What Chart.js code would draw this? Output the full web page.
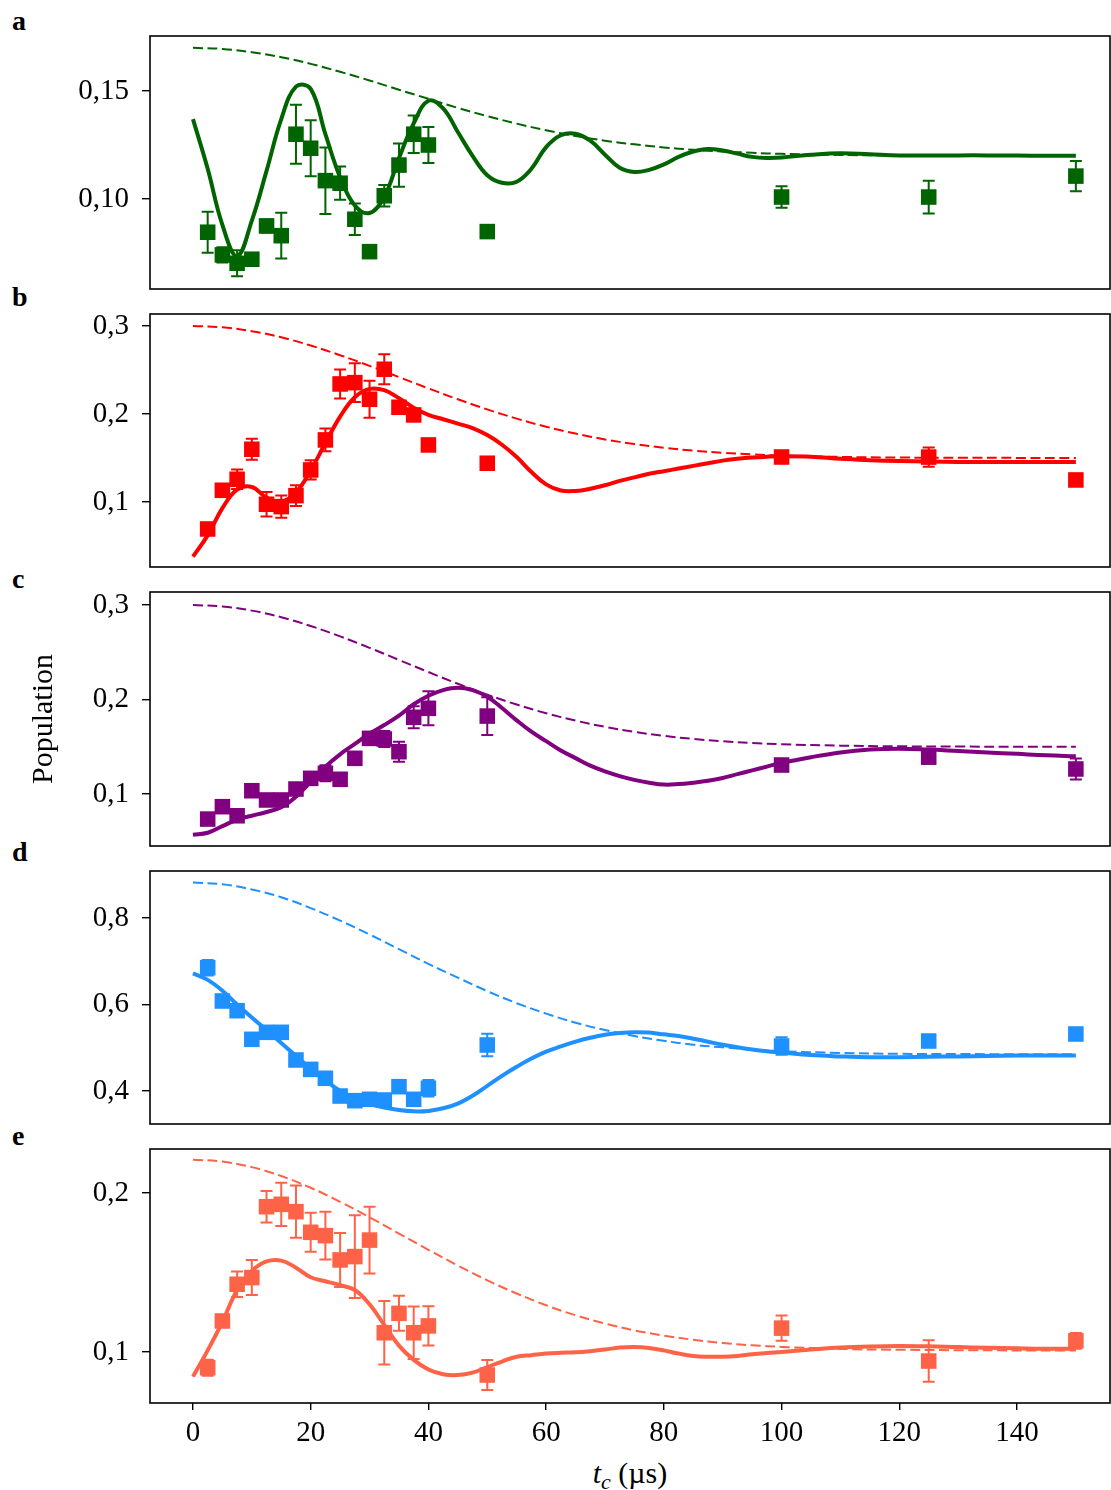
<!DOCTYPE html>
<html>
<head>
<meta charset="utf-8">
<script src="https://cdn.jsdelivr.net/npm/chart.js@4.4.1/dist/chart.umd.min.js"></script>
<style>
  body { margin: 0; background: #fff; width: 1111px; height: 1490px; position: relative; overflow: hidden; font-family: "Liberation Serif", serif; }
  canvas { position: absolute; left: 0; }
  .lbl { position: absolute; left: 12px; font-weight: bold; font-size: 28px; line-height: 28px; }
  #xt { position: absolute; left: 150px; width: 960px; top: 1458px; text-align: center; font-size: 30px; line-height: 30px; }
  #xt sub { font-size: 22px; line-height: 0; vertical-align: -6px; }
</style>
</head>
<body>
<div class="lbl" style="top:7px">a</div>
<div class="lbl" style="top:283px">b</div>
<div class="lbl" style="top:565px">c</div>
<div class="lbl" style="top:838px">d</div>
<div class="lbl" style="top:1122px">e</div>
<div id="xt"><i>t</i><sub><i>c</i></sub> (µs)</div>

<script>
// measured points (t in µs)
const tData = [2.5, 5, 7.5, 10, 12.5, 15, 17.5, 20, 22.5, 25, 27.5, 30, 32.5, 35, 37.5, 40, 50, 100, 125, 150];

const aData = [0.0846, 0.0741, 0.0702, 0.0721, 0.0875, 0.083, 0.130, 0.1235, 0.1085, 0.1073, 0.0906, 0.0756, 0.1015, 0.1157, 0.130, 0.125, 0.0849, 0.1009, 0.1009, 0.1106];
const aErr  = [0.0095, 0.0035, 0.006, 0.002, 0.003, 0.0106, 0.0137, 0.013, 0.0154, 0.0077, 0.0073, 0.002, 0.005, 0.010, 0.0087, 0.0083, 0.002, 0.005, 0.0076, 0.007];

const bData = [0.0693, 0.1133, 0.1258, 0.1599, 0.0974, 0.0947, 0.1072, 0.1364, 0.1705, 0.2341, 0.2356, 0.2167, 0.2508, 0.2076, 0.1989, 0.1648, 0.144, 0.1511, 0.151, 0.125];
const bErr  = [0.004, 0.004, 0.011, 0.012, 0.014, 0.0127, 0.0117, 0.011, 0.013, 0.0165, 0.022, 0.021, 0.017, 0.005, 0.005, 0.003, 0.003, 0.006, 0.011, 0.004];

const cData = [0.0735, 0.0866, 0.077, 0.1035, 0.0937, 0.0937, 0.1053, 0.1166, 0.1219, 0.1156, 0.1378, 0.1589, 0.1582, 0.1448, 0.1812, 0.1907, 0.1825, 0.1307, 0.139, 0.1265];
const cErr  = [0.003, 0.003, 0.003, 0.004, 0.004, 0.004, 0.004, 0.005, 0.0085, 0.004, 0.006, 0.005, 0.0085, 0.0106, 0.0116, 0.018, 0.02, 0.006, 0.005, 0.011];

const dData = [0.6851, 0.6081, 0.5857, 0.5195, 0.5357, 0.5357, 0.4717, 0.450, 0.4294, 0.3884, 0.3776, 0.3808, 0.3792, 0.41, 0.3808, 0.4063, 0.5064, 0.504, 0.5156, 0.5318];
const dErr  = [0.018, 0.008, 0.008, 0.008, 0.008, 0.008, 0.008, 0.008, 0.008, 0.008, 0.008, 0.008, 0.008, 0.008, 0.008, 0.019, 0.026, 0.02, 0.012, 0.012];

const eData = [0.0901, 0.1195, 0.1426, 0.1468, 0.1914, 0.1929, 0.1883, 0.1753, 0.1732, 0.1579, 0.160, 0.1704, 0.1121, 0.1243, 0.1121, 0.1164, 0.0855, 0.115, 0.0943, 0.107];
const eErr  = [0.005, 0.003, 0.008, 0.011, 0.0099, 0.0136, 0.0164, 0.0123, 0.015, 0.017, 0.026, 0.021, 0.02, 0.011, 0.0165, 0.0123, 0.0094, 0.008, 0.013, 0.005];

// fitted curves
const tFit = [0, 2.5, 5, 7.5, 10, 12.5, 15, 17.5, 20, 22.5, 25, 27.5, 30, 32.5, 35, 37.5, 40, 42.5, 45, 47.5, 50,
  52.5, 55, 57.5, 60, 62.5, 65, 67.5, 70, 72.5, 75, 77.5, 80, 82.5, 85, 87.5, 90, 92.5, 95, 97.5, 100,
  105, 110, 115, 120, 125, 130, 135, 140, 145, 150];

const aFit = [0.137, 0.114, 0.088, 0.0735, 0.090, 0.113, 0.137, 0.152, 0.151, 0.130, 0.110, 0.097, 0.0935, 0.101, 0.119, 0.135, 0.1455, 0.142, 0.131, 0.120, 0.111,
  0.1075, 0.108, 0.114, 0.124, 0.1295, 0.1302, 0.127, 0.1205, 0.1145, 0.1125, 0.1135, 0.116, 0.1195, 0.122, 0.1232, 0.1225, 0.121, 0.1195, 0.119, 0.1192,
  0.1205, 0.1212, 0.1207, 0.1202, 0.1201, 0.1202, 0.1202, 0.1201, 0.120, 0.120];

const bFit = [0.038, 0.062, 0.093, 0.114, 0.117, 0.105, 0.1005, 0.111, 0.136, 0.167, 0.197, 0.219, 0.2285, 0.227, 0.218, 0.207, 0.199, 0.194, 0.189, 0.184, 0.176,
  0.165, 0.151, 0.134, 0.120, 0.113, 0.1125, 0.115, 0.119, 0.124, 0.128, 0.132, 0.135, 0.138, 0.141, 0.144, 0.147, 0.149, 0.1505, 0.1515, 0.152,
  0.1515, 0.149, 0.1475, 0.1465, 0.146, 0.1455, 0.1455, 0.1455, 0.1455, 0.1455];

const cFit = [0.057, 0.059, 0.066, 0.073, 0.077, 0.081, 0.086, 0.097, 0.113, 0.129, 0.142, 0.153, 0.164, 0.173, 0.183, 0.195, 0.204, 0.210, 0.2125, 0.210, 0.203,
  0.191, 0.178, 0.166, 0.156, 0.146, 0.138, 0.130, 0.124, 0.119, 0.115, 0.112, 0.110, 0.1105, 0.112, 0.114, 0.117, 0.121, 0.125, 0.129, 0.133,
  0.139, 0.144, 0.147, 0.148, 0.147, 0.1455, 0.144, 0.1425, 0.141, 0.140];

const dFit = [0.672, 0.657, 0.632, 0.600, 0.570, 0.541, 0.511, 0.481, 0.452, 0.425, 0.400, 0.382, 0.370, 0.362, 0.356, 0.353, 0.354, 0.360, 0.371, 0.389, 0.412,
  0.435, 0.456, 0.475, 0.491, 0.503, 0.514, 0.523, 0.530, 0.534, 0.536, 0.535, 0.531, 0.527, 0.521, 0.514, 0.507, 0.501, 0.496, 0.492, 0.489,
  0.483, 0.480, 0.478, 0.478, 0.479, 0.480, 0.481, 0.482, 0.482, 0.482];

const eFit = [0.0845, 0.101, 0.119, 0.139, 0.151, 0.157, 0.1575, 0.153, 0.147, 0.1445, 0.142, 0.139, 0.130, 0.117, 0.104, 0.095, 0.089, 0.086, 0.0855, 0.087, 0.0905,
  0.094, 0.097, 0.098, 0.099, 0.0995, 0.0998, 0.1005, 0.1015, 0.1028, 0.1032, 0.1025, 0.101, 0.099, 0.0975, 0.097, 0.097, 0.0975, 0.0985, 0.0993, 0.100,
  0.1015, 0.1028, 0.1035, 0.1038, 0.1036, 0.1031, 0.1027, 0.1023, 0.102, 0.102];

// dashed envelopes
const tEnv = [0, 5, 10, 15, 20, 25, 30, 35, 40, 45, 50, 55, 60, 65, 70, 75, 80, 85, 90, 95, 100, 110, 120, 130, 140, 150];
const aEnv = [0.170, 0.1695, 0.1680, 0.1657, 0.1626, 0.1589, 0.1549, 0.1506, 0.1464, 0.1422, 0.1384, 0.1349, 0.1318, 0.1292, 0.1270, 0.1253, 0.1239, 0.1228, 0.1220, 0.1214, 0.1209, 0.1204, 0.1202, 0.1201, 0.1200, 0.1200];
const bEnv = [0.300, 0.2985, 0.2941, 0.2871, 0.2778, 0.2668, 0.2547, 0.2419, 0.2291, 0.2167, 0.2052, 0.1947, 0.1855, 0.1777, 0.1711, 0.1658, 0.1616, 0.1583, 0.1559, 0.1541, 0.1527, 0.1512, 0.1505, 0.1502, 0.1501, 0.1500];
const cEnv = [0.300, 0.2985, 0.2941, 0.2871, 0.2778, 0.2668, 0.2547, 0.2419, 0.2291, 0.2167, 0.2052, 0.1947, 0.1855, 0.1777, 0.1711, 0.1658, 0.1616, 0.1583, 0.1559, 0.1541, 0.1527, 0.1512, 0.1505, 0.1502, 0.1501, 0.1500];
const dEnv = [0.882, 0.878, 0.866, 0.848, 0.823, 0.794, 0.762, 0.728, 0.694, 0.662, 0.631, 0.603, 0.579, 0.558, 0.541, 0.527, 0.516, 0.507, 0.501, 0.496, 0.492, 0.488, 0.486, 0.4855, 0.485, 0.485];
const eEnv = [0.221, 0.2198, 0.2163, 0.2107, 0.2033, 0.1945, 0.1847, 0.1745, 0.1643, 0.1544, 0.1451, 0.1368, 0.1294, 0.1231, 0.1179, 0.1136, 0.1103, 0.1077, 0.1057, 0.1042, 0.1032, 0.1019, 0.1014, 0.1011, 0.1010, 0.1010];

// ticks
const xTicks = [0, 20, 40, 60, 80, 100, 120, 140];
const aTicks = [0.10, 0.15], aTickLabels = ['0,10', '0,15'];
const bTicks = [0.1, 0.2, 0.3], bTickLabels = ['0,1', '0,2', '0,3'];
const cTicks = [0.1, 0.2, 0.3], cTickLabels = ['0,1', '0,2', '0,3'];
const dTicks = [0.4, 0.6, 0.8], dTickLabels = ['0,4', '0,6', '0,8'];
const eTicks = [0.1, 0.2], eTickLabels = ['0,1', '0,2'];

const panels = [
  { color: '#006400', pts: aData, err: aErr, fit: aFit, env: aEnv, ticks: aTicks, labels: aTickLabels, top: 36, bottom: 289, min: 0.0583, max: 0.1755 },
  { color: '#ff0000', pts: bData, err: bErr, fit: bFit, env: bEnv, ticks: bTicks, labels: bTickLabels, top: 314, bottom: 567, min: 0.0261, max: 0.3136 },
  { color: '#800080', pts: cData, err: cErr, fit: cFit, env: cEnv, ticks: cTicks, labels: cTickLabels, top: 592, bottom: 846, min: 0.045, max: 0.3138, ytitle: 'Population' },
  { color: '#1e90ff', pts: dData, err: dErr, fit: dFit, env: dEnv, ticks: dTicks, labels: dTickLabels, top: 871, bottom: 1124, min: 0.3237, max: 0.9087 },
  { color: '#ff6347', pts: eData, err: eErr, fit: eFit, env: eEnv, ticks: eTicks, labels: eTickLabels, top: 1149, bottom: 1403, min: 0.0679, max: 0.2277, xaxis: true }
];

Chart.defaults.font.family = '"Liberation Serif", "Times New Roman", serif';
Chart.defaults.font.size = 29;
Chart.defaults.color = '#000';

const errorBars = {
  id: 'errorBars',
  afterDatasetsDraw(chart) {
    const ctx = chart.ctx;
    const xs = chart.scales.x, ys = chart.scales.y;
    chart.data.datasets.forEach(ds => {
      if (!ds.errors) return;
      ctx.save();
      ctx.strokeStyle = ds.backgroundColor;
      ctx.lineWidth = 2;
      ds.data.forEach((p, j) => {
        const e = ds.errors[j];
        const x = xs.getPixelForValue(p.x);
        const y1 = ys.getPixelForValue(p.y - e);
        const y2 = ys.getPixelForValue(p.y + e);
        ctx.beginPath();
        ctx.moveTo(x, y1); ctx.lineTo(x, y2);
        ctx.moveTo(x - 6, y1); ctx.lineTo(x + 6, y1);
        ctx.moveTo(x - 6, y2); ctx.lineTo(x + 6, y2);
        ctx.stroke();
      });
      ctx.restore();
    });
  }
};

const frame = {
  id: 'frame',
  afterDraw(chart) {
    const a = chart.chartArea, ctx = chart.ctx;
    ctx.save();
    ctx.strokeStyle = '#000';
    ctx.lineWidth = 1.6;
    ctx.strokeRect(a.left, a.top, a.right - a.left, a.bottom - a.top);
    ctx.restore();
  }
};

const PAD = 24;

panels.forEach(p => {
  const canvas = document.createElement('canvas');
  const top = p.top - PAD;
  const height = p.xaxis ? 1490 - top : (p.bottom - p.top) + 2 * PAD;
  canvas.width = 1111;
  canvas.height = height;
  canvas.style.top = top + 'px';
  canvas.style.width = '1111px';
  canvas.style.height = height + 'px';
  document.body.appendChild(canvas);

  new Chart(canvas.getContext('2d'), {
    type: 'line',
    data: {
      datasets: [
        {
          data: tData.map((t, i) => ({ x: t, y: p.pts[i] })),
          errors: p.err,
          showLine: false,
          pointStyle: 'rect',
          pointRadius: 11,
          pointBorderWidth: 0,
          backgroundColor: p.color,
          borderColor: p.color
        },
        {
          data: tFit.map((t, i) => ({ x: t, y: p.fit[i] })),
          borderColor: p.color,
          borderWidth: 4,
          pointRadius: 0,
          tension: 0.4,
          fill: false
        },
        {
          data: tEnv.map((t, i) => ({ x: t, y: p.env[i] })),
          borderColor: p.color,
          borderWidth: 2,
          borderDash: [10, 4.5],
          pointRadius: 0,
          tension: 0.4,
          fill: false
        }
      ]
    },
    options: {
      responsive: false,
      animation: false,
      devicePixelRatio: 1,
      layout: { autoPadding: false, padding: { top: PAD, bottom: p.xaxis ? 0 : PAD, left: 0, right: 1 } },
      plugins: { legend: { display: false }, tooltip: { enabled: false } },
      scales: {
        x: {
          type: 'linear',
          min: -7.3,
          max: 155.8,
          display: !!p.xaxis,
          afterBuildTicks: s => { s.ticks = xTicks.map(v => ({ value: v })); },
          afterFit: s => {
            s.height = p.xaxis ? 1490 - p.bottom : 0;
            s.paddingLeft = 0;
            s.paddingRight = 0;
          },
          border: { display: false },
          grid: { drawOnChartArea: false, drawTicks: true, tickLength: 7, color: '#000', lineWidth: 1.4 },
          ticks: { padding: 6, maxRotation: 0, autoSkip: false, font: { size: 29 } }
        },
        y: {
          min: p.min,
          max: p.max,
          afterBuildTicks: s => { s.ticks = p.ticks.map(v => ({ value: v })); },
          afterFit: s => {
            s.width = 150;
            s.paddingTop = 0;
            s.paddingBottom = 0;
          },
          border: { display: false },
          grid: { drawOnChartArea: false, drawTicks: true, tickLength: 8, color: '#000', lineWidth: 1.4 },
          ticks: {
            padding: 13,
            font: { size: 29 },
            callback: v => {
              const i = p.ticks.findIndex(t => Math.abs(t - v) < 1e-6);
              return i >= 0 ? p.labels[i] : '';
            }
          },
          title: p.ytitle ? { display: true, text: p.ytitle, font: { size: 30 }, padding: { top: 26, bottom: 0 } } : { display: false }
        }
      }
    },
    plugins: [errorBars, frame]
  });
});
</script>
</body>
</html>
